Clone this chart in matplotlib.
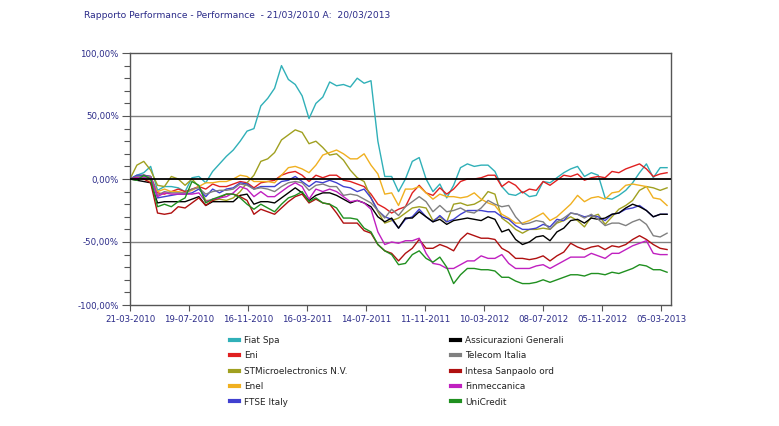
import matplotlib
matplotlib.use("Agg")
import matplotlib.pyplot as plt
import matplotlib.dates as mdates
import pandas as pd
import numpy as np

# ---------------- data ----------------
start_date = "2010-03-21"
n_points = 79
dates = pd.date_range(start_date, periods=n_points, freq="14D")

fiat = [0, 3, 5, 10, -9, -6, -6, -7, -10, 1, 2, -3, 6, 12, 18, 23, 30, 38, 40, 58,
        64, 72, 90, 79, 75, 66, 48, 60, 65, 77, 74, 75, 73, 80, 76, 78, 30, 2, 2, -10,
        0, 14, 17, 0, -10, -4, -15, -5, 9, 12, 10, 11, 11, 6, -6, -12, -13, -10, -14, -13, -2,
        -3, 1, 5, 8, 10, 2, 5, 3, -15, -16, -13, -9, -3, 5, 12, 1, 9, 9]
eni = [0, 2, 3, 2, -11, -12, -10, -8, -10, -8, -6, -8, -4, -6, -6, -4, -2, -3, -7, -3,
       -2, -1, 3, 5, 6, 3, -2, 3, 1, 3, 3, -1, -2, -4, -6, -12, -20, -23, -27, -24,
       -22, -11, -5, -11, -13, -7, -12, -8, -2, 0, 0, 1, 3, 3, -6, -2, -5, -11, -8, -9, -2,
       -5, -1, 3, 2, 4, -1, 1, 2, 1, 6, 5, 8, 10, 12, 8, 2, 4, 5]
stm = [0, 11, 14, 7, -5, -6, 2, 0, -5, 0, -6, -17, -17, -16, -17, -15, -10, -3, 3, 14,
       16, 21, 31, 35, 39, 37, 28, 30, 25, 19, 20, 15, 7, 1, -2, -15, -26, -35, -33, -31,
       -27, -23, -22, -23, -33, -30, -34, -20, -19, -21, -20, -17, -10, -12, -31, -35, -40, -43, -40, -40, -39,
       -40, -35, -33, -30, -33, -38, -30, -28, -36, -30, -24, -21, -17, -9, -6, -7, -9, -7]
enel = [0, 1, 0, -1, -10, -8, -10, -10, -11, -9, -6, -3, -3, -2, -2, 0, 3, 2, -2, -2,
        -2, -3, 3, 9, 10, 8, 5, 11, 19, 21, 23, 20, 16, 16, 20, 11, 4, -12, -11, -21,
        -8, -8, -6, -11, -16, -12, -14, -14, -15, -14, -11, -16, -19, -21, -28, -31, -35, -35, -33, -30, -27,
        -33, -30, -25, -20, -13, -18, -15, -14, -16, -11, -10, -5, -4, -5, -6, -15, -16, -21]
ftse = [0, 3, 3, 2, -15, -14, -13, -12, -12, -11, -8, -14, -8, -11, -8, -7, -3, -4, -8, -6,
        -6, -6, -2, -1, 2, -2, -6, -2, -3, -1, -3, -6, -7, -10, -8, -15, -25, -30, -32, -39,
        -32, -30, -24, -30, -34, -29, -34, -32, -28, -25, -25, -25, -26, -26, -30, -32, -37, -40, -40, -39, -36,
        -38, -32, -33, -27, -28, -30, -29, -30, -33, -28, -27, -24, -23, -21, -25, -30, -28, -28]
generali = [0, -1, -2, -3, -19, -18, -18, -18, -18, -16, -14, -21, -18, -18, -18, -18, -13, -12, -20, -18,
            -18, -19, -15, -11, -7, -11, -17, -13, -11, -11, -13, -16, -19, -17, -19, -22, -30, -34, -31, -39,
            -31, -31, -26, -30, -34, -32, -36, -33, -32, -31, -32, -33, -30, -32, -42, -40, -48, -52, -50, -46, -45,
            -49, -42, -39, -33, -32, -35, -31, -32, -31, -28, -27, -23, -20, -22, -25, -30, -28, -28]
telecom = [0, 2, 2, 2, -13, -10, -11, -11, -11, -8, -7, -12, -10, -9, -9, -8, -4, -5, -8, -7,
           -8, -10, -6, -3, -2, -3, -9, -5, -4, -6, -6, -13, -12, -13, -16, -19, -25, -31, -24, -29,
           -22, -18, -14, -18, -26, -21, -26, -25, -23, -26, -27, -23, -17, -20, -22, -21, -30, -36, -35, -33, -34,
           -40, -34, -31, -27, -28, -31, -28, -32, -37, -35, -35, -37, -34, -32, -36, -45, -46, -43]
intesa = [0, 1, 0, -3, -27, -28, -27, -22, -23, -19, -15, -21, -17, -15, -12, -12, -14, -17, -28, -24,
          -26, -28, -23, -18, -14, -12, -19, -16, -19, -20, -27, -35, -35, -35, -41, -43, -52, -57, -59, -65,
          -59, -55, -48, -55, -55, -52, -54, -57, -48, -43, -45, -47, -47, -48, -55, -58, -63, -63, -64, -63, -61,
          -65, -61, -58, -51, -54, -56, -54, -53, -56, -53, -54, -52, -48, -45, -48, -52, -55, -56]
finmeccanica = [0, 1, 1, 1, -14, -11, -12, -12, -12, -12, -11, -18, -16, -15, -14, -11, -6, -8, -14, -10,
                -14, -14, -10, -6, -3, -6, -16, -8, -10, -8, -10, -14, -18, -17, -19, -24, -42, -52, -50, -51,
                -49, -49, -47, -59, -67, -68, -71, -71, -68, -65, -65, -61, -63, -63, -60, -67, -71, -71, -71, -69, -68,
                -71, -68, -65, -62, -62, -62, -59, -61, -63, -59, -59, -56, -53, -51, -49, -59, -60, -60]
unicredit = [0, -1, 3, 0, -22, -20, -22, -18, -15, -2, -5, -19, -16, -14, -12, -12, -15, -20, -24, -20,
             -23, -26, -20, -15, -13, -10, -18, -15, -19, -20, -23, -31, -31, -32, -39, -42, -52, -57, -60, -68,
             -67, -60, -57, -63, -66, -62, -70, -83, -76, -71, -71, -72, -72, -73, -78, -78, -81, -83, -83, -82, -80,
             -82, -80, -78, -76, -76, -77, -75, -75, -76, -74, -75, -73, -71, -68, -69, -72, -72, -74]

series_names = ["Fiat Spa", "Eni", "STMicroelectronics N.V.", "Enel", "FTSE Italy",
                "Assicurazioni Generali", "Telecom Italia", "Intesa Sanpaolo ord",
                "Finmeccanica", "UniCredit"]
series_values = [fiat, eni, stm, enel, ftse, generali, telecom, intesa, finmeccanica, unicredit]
series_colors = ["#30b0b8", "#e02020", "#a0a020", "#f0b020", "#4040d0",
                 "#000000", "#808080", "#b01010", "#c020c0", "#209020"]

tick_step_days = 120
n_ticks = 10
title_text = "Rapporto Performance - Performance  - 21/03/2010 A:  20/03/2013"
y_major = [-100, -50, 0, 50, 100]

# ---------------- figure ----------------
navy = "#2a2a88"
fig = plt.figure(figsize=(7.79, 4.26), dpi=100)
W, H = 779, 426
ax = fig.add_axes([130 / W, 1 - 305 / H, 541 / W, 252 / H])

x0 = pd.Timestamp(start_date)
ax.set_xlim(x0, x0 + pd.Timedelta(days=1100))
ax.set_ylim(-100, 100)

for yv in (50, -50):
    ax.axhline(yv, color="#808080", lw=1.0, zorder=1)

handles = []
for name, vals, col in zip(series_names, series_values, series_colors):
    ln, = ax.plot(dates, vals, color=col, lw=1.0, label=name, zorder=2)
    handles.append(ln)
ax.axhline(0, color="black", lw=1.3, zorder=3)

ticks = [x0 + pd.Timedelta(days=tick_step_days * k) for k in range(n_ticks)]
ax.set_xticks(ticks)
ax.xaxis.set_major_formatter(mdates.DateFormatter("%d-%m-%Y"))
ax.set_yticks(y_major)
ax.set_yticks(np.arange(-100, 101, 10), minor=True)
ax.set_yticklabels([f"{v:.2f}".replace(".", ",") + "%" for v in y_major])

ax.tick_params(axis="both", which="both", direction="out", colors="#555555",
               labelcolor=navy, labelsize=6.2, width=0.8)
ax.tick_params(axis="y", which="major", length=6, pad=2)
ax.tick_params(axis="y", which="minor", length=4)
ax.tick_params(axis="x", which="major", length=4, pad=3)
for sp in ax.spines.values():
    sp.set_color("#555555")
    sp.set_linewidth(1.0)

fig.text(84 / W, 1 - 15 / H, title_text, color=navy, fontsize=6.6, va="center", ha="left")

leg_kw = dict(frameon=False, fontsize=6.4, handlelength=1.0, handletextpad=0.6,
              labelspacing=0.72, borderpad=0, borderaxespad=0, loc="upper left")
leg1 = fig.legend(handles=handles[:5], bbox_to_anchor=(230 / W, 1 - 336 / H), **leg_kw)
leg2 = fig.legend(handles=handles[5:], bbox_to_anchor=(451 / W, 1 - 336 / H), **leg_kw)
for leg in (leg1, leg2):
    for t in leg.get_texts():
        t.set_color("#222222")
    for h in leg.legend_handles:
        h.set_linewidth(3)

fig.savefig("out.png", dpi=100)
